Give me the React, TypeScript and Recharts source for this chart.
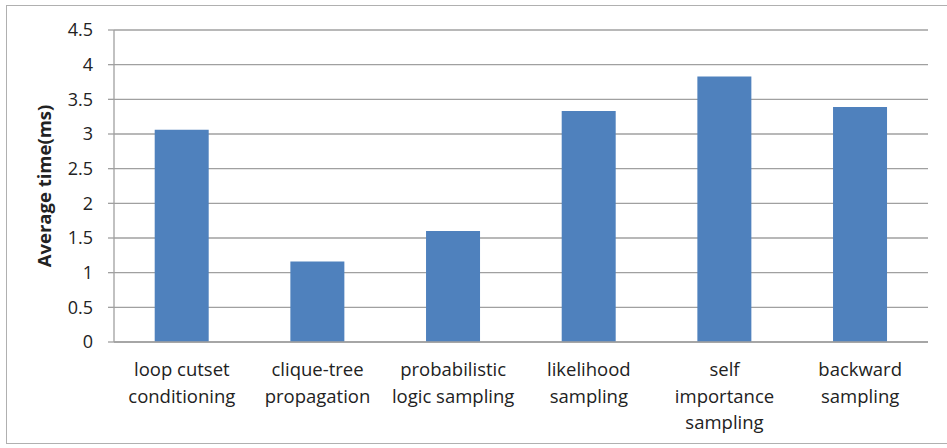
import { BarChart, Bar, XAxis, YAxis, CartesianGrid } from 'recharts';

const categories = [
  'loop cutset\nconditioning',
  'clique-tree\npropagation',
  'probabilistic\nlogic sampling',
  'likelihood\nsampling',
  'self\nimportance\nsampling',
  'backward\nsampling'
];

const avgTime = [3.06, 1.16, 1.6, 3.33, 3.83, 3.39];

const yTicks = [0, 0.5, 1, 1.5, 2, 2.5, 3, 3.5, 4, 4.5];

const data = categories.map((name, i) => ({ name, value: avgTime[i] }));

const FONT = '"Open Sans", Lato, sans-serif';

function CategoryTick({ x, y, payload }: any) {
  const lines = String(payload.value).split('\n');
  return (
    <g transform={`translate(${x},${y})`}>
      {lines.map((line, i) => (
        <text
          key={i}
          x={0}
          y={26 + i * 26.5}
          textAnchor="middle"
          fill="#222"
          fontSize={18.5}
          fontFamily={FONT}
        >
          {line}
        </text>
      ))}
    </g>
  );
}

export default function App() {
  return (
    <div
      style={{
        position: 'absolute',
        left: 0,
        top: 0,
        width: 947,
        height: 448,
        overflow: 'hidden',
        background: '#fff'
      }}
    >
      <div
        style={{
          position: 'absolute',
          left: 6,
          top: 5,
          width: 1000,
          height: 437,
          border: '1px solid #b0b0b0'
        }}
      />
      <div style={{ position: 'absolute', left: 0, top: 0 }}>
        <BarChart
          width={947}
          height={448}
          data={data}
          margin={{ top: 30, right: 19, bottom: 0, left: 0 }}
          barCategoryGap="30%"
        >
          <CartesianGrid vertical={false} stroke="#a0a0a0" strokeWidth={1.3} />
          <XAxis
            dataKey="name"
            height={106}
            interval={0}
            tickLine={false}
            axisLine={{ stroke: '#a0a0a0', strokeWidth: 1.3 }}
            tick={<CategoryTick />}
          />
          <YAxis
            width={114}
            domain={[0, 4.5]}
            ticks={yTicks}
            interval={0}
            tickSize={6}
            tickMargin={15}
            tickLine={{ stroke: '#a0a0a0', strokeWidth: 1.3 }}
            axisLine={{ stroke: '#a0a0a0', strokeWidth: 1.3 }}
            tick={{ fill: '#222', fontSize: 18, fontFamily: FONT }}
            label={{
              value: 'Average time(ms)',
              angle: -90,
              position: 'insideLeft',
              offset: 44,
              style: {
                textAnchor: 'middle',
                fill: '#222',
                fontSize: 18.5,
                fontWeight: 'bold',
                fontFamily: FONT
              }
            }}
          />
          <Bar dataKey="value" fill="#4f81bd" isAnimationActive={false} />
        </BarChart>
      </div>
    </div>
  );
}
